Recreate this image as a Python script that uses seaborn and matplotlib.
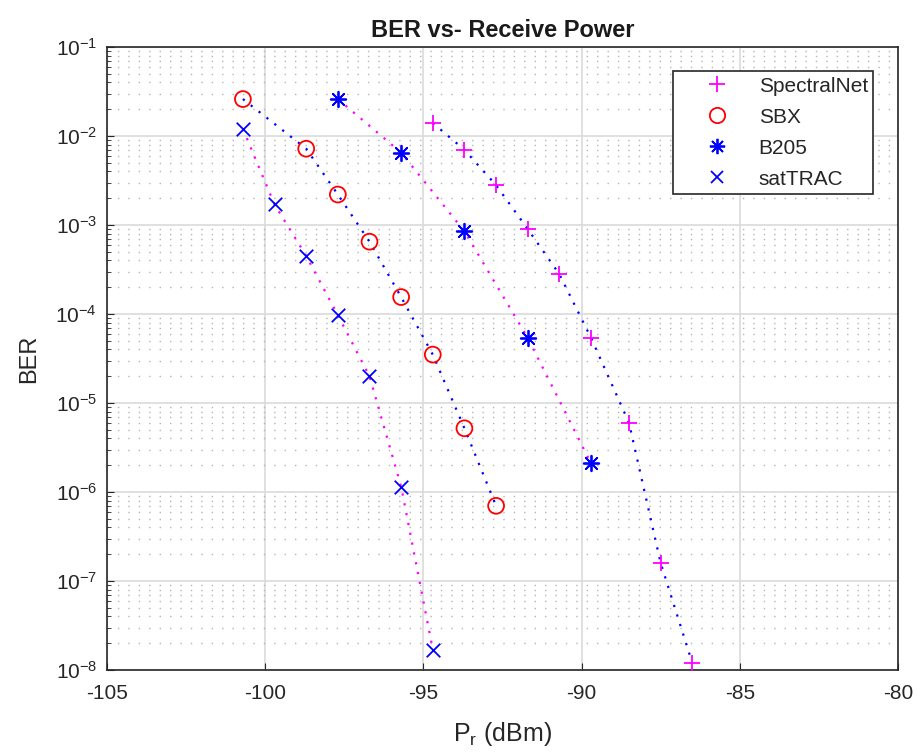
import math
import matplotlib
matplotlib.use("Agg")
import matplotlib.pyplot as plt
from matplotlib.lines import Line2D
from matplotlib.ticker import LogLocator, FixedLocator, NullFormatter, FuncFormatter
import seaborn as sns
import pandas as pd

# ---- data ----
spectral_x = [-94.7, -93.7, -92.7, -91.7, -90.7, -89.7, -88.5, -87.5, -86.5]
spectral_y = [1.4e-2, 7.0e-3, 2.8e-3, 9.0e-4, 2.8e-4, 5.4e-5, 6.0e-6, 1.6e-7, 1.2e-8]
sbx_x = [-100.7, -98.7, -97.7, -96.7, -95.7, -94.7, -93.7, -92.7]
sbx_y = [2.6e-2, 7.2e-3, 2.2e-3, 6.5e-4, 1.55e-4, 3.5e-5, 5.2e-6, 7.0e-7]
b205_x = [-97.7, -95.7, -93.7, -91.7, -89.7]
b205_y = [2.6e-2, 6.5e-3, 8.5e-4, 5.4e-5, 2.1e-6]
sat_x = [-100.7, -99.7, -98.7, -97.7, -96.7, -95.7, -94.7]
sat_y = [1.2e-2, 1.7e-3, 4.5e-4, 9.7e-5, 2.0e-5, 1.15e-6, 1.7e-8]

series_names = ["SpectralNet", "SBX", "B205", "satTRAC"]
x_ticks = [-105, -100, -95, -90, -85, -80]
y_exps = [-8, -7, -6, -5, -4, -3, -2, -1]

MAG = "#FF00FF"
RED = "#FF0000"
BLU = "#0000FF"

sns.set_style("white")
plt.rcParams["font.family"] = ["Liberation Sans", "DejaVu Sans"]
plt.rcParams["mathtext.fontset"] = "custom"
plt.rcParams["mathtext.rm"] = "Liberation Sans"
plt.rcParams["mathtext.it"] = "Liberation Sans"

fig = plt.figure(figsize=(9.21, 7.52), dpi=100)
ax = fig.add_axes([0.116, 0.109, 0.859, 0.8285])

def df(x, y):
    return pd.DataFrame({"x": x, "y": y})

# fitted (dotted) curves, colors as in reference
line_kw = dict(linestyle=(0, (1, 3.5)), linewidth=1.6, sort=False, legend=False, ax=ax)
sns.lineplot(data=df(spectral_x, spectral_y), x="x", y="y", color=BLU, **line_kw)
sns.lineplot(data=df(sbx_x, sbx_y), x="x", y="y", color=BLU, **line_kw)
sns.lineplot(data=df(b205_x, b205_y), x="x", y="y", color=MAG, **line_kw)
sns.lineplot(data=df(sat_x, sat_y), x="x", y="y", color=MAG, **line_kw)

# markers
ast = (8, 2, 0)
sns.scatterplot(data=df(spectral_x, spectral_y), x="x", y="y", marker="+", s=140,
                color=MAG, linewidth=1.3, ax=ax, legend=False, zorder=5)
sns.scatterplot(data=df(sbx_x, sbx_y), x="x", y="y", marker="o", s=130,
                facecolors="none", edgecolors=RED, linewidth=1.3, ax=ax, legend=False, zorder=5)
sns.scatterplot(data=df(b205_x, b205_y), x="x", y="y", marker=ast, s=125,
                color=BLU, edgecolor=BLU, linewidth=1.3, ax=ax, legend=False, zorder=5)
sns.scatterplot(data=df(sat_x, sat_y), x="x", y="y", marker="x", s=95,
                color=BLU, linewidth=1.3, ax=ax, legend=False, zorder=5)

ax.set_yscale("log")
ax.set_xlim(-105, -80)
ax.set_ylim(1e-8, 1e-1)
ax.xaxis.set_major_locator(FixedLocator(x_ticks))
ax.set_xticklabels([str(t) for t in x_ticks])
ax.yaxis.set_major_locator(FixedLocator([10.0 ** e for e in y_exps]))
ax.yaxis.set_major_formatter(FuncFormatter(lambda v, p: r"$10^{%d}$" % round(math.log10(v))))
ax.yaxis.set_minor_locator(LogLocator(base=10, subs=[2, 3, 4, 5, 6, 7, 8, 9], numticks=20))
ax.yaxis.set_minor_formatter(NullFormatter())

ax.grid(True, which="major", axis="both", color="#DADADA", linewidth=1.2, linestyle="-")
ax.grid(True, which="minor", axis="y", color="#B4B4B4", linewidth=1.0, linestyle=(0, (1, 6.5)))
ax.set_axisbelow(True)

for sp in ax.spines.values():
    sp.set_color("#262626")
    sp.set_linewidth(1.2)
ax.tick_params(axis="both", which="major", direction="in", length=5, width=0.8,
               labelsize=15, colors="#262626", top=False, right=False, left=True, bottom=True)
ax.tick_params(axis="y", which="minor", direction="in", length=3, width=0.6, left=True)
ax.tick_params(axis="x", which="major", pad=10)
ax.tick_params(axis="y", which="major", pad=7)

ax.set_title("BER vs- Receive Power", fontsize=17, fontweight="bold", color="#1a1a1a", pad=7)
ax.set_xlabel(r"P$_\mathrm{r}$ (dBm)", fontsize=18, color="#262626", labelpad=12)
ax.set_ylabel("BER", fontsize=17, color="#262626", labelpad=11)

handles = [
    Line2D([], [], linestyle="none", marker="+", markersize=12, markeredgewidth=1.3, color=MAG),
    Line2D([], [], linestyle="none", marker="o", markersize=11, markeredgewidth=1.3,
           markerfacecolor="none", markeredgecolor=RED),
    Line2D([], [], linestyle="none", marker=ast, markersize=11, markeredgewidth=1.3, color=BLU),
    Line2D([], [], linestyle="none", marker="x", markersize=9, markeredgewidth=1.3, color=BLU),
]
leg = ax.legend(handles, series_names, loc="upper left", bbox_to_anchor=(0.716, 0.961),
                fontsize=15, frameon=True, fancybox=False, edgecolor="#262626",
                framealpha=1, borderpad=0.25, handletextpad=0.15, labelspacing=0.58,
                handlelength=3.7, borderaxespad=0)
leg.get_frame().set_linewidth(1.2)

fig.savefig("out.png", dpi=100, facecolor="white")
